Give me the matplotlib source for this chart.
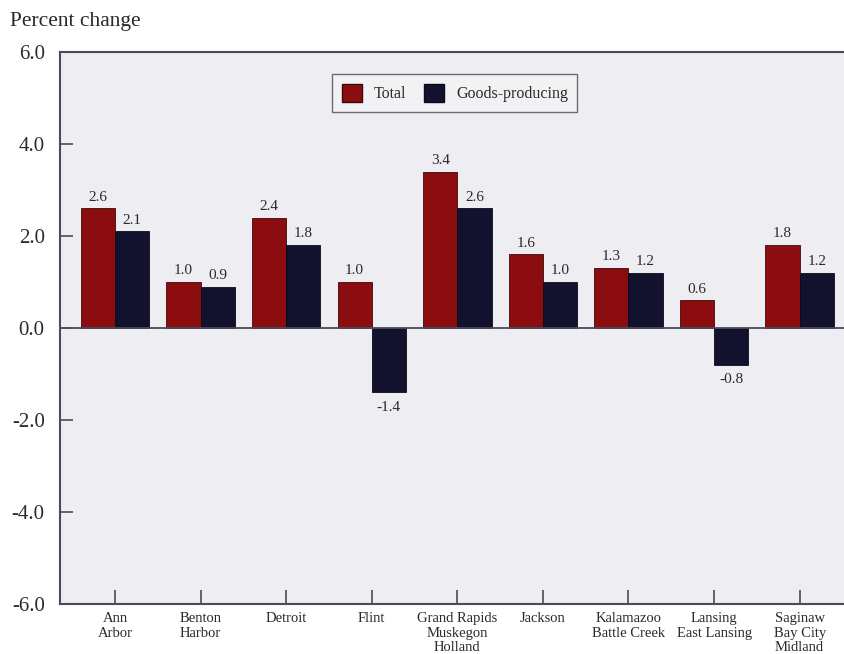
import matplotlib
matplotlib.use("Agg")
import matplotlib.pyplot as plt
from matplotlib.patches import Patch
import numpy as np

plt.rcParams['font.family'] = ['Liberation Serif', 'DejaVu Serif']

areas = ["Ann\nArbor", "Benton\nHarbor", "Detroit", "Flint",
         "Grand Rapids\nMuskegon\nHolland", "Jackson",
         "Kalamazoo\nBattle Creek", "Lansing\nEast Lansing",
         "Saginaw\nBay City\nMidland"]
total = [2.6, 1.0, 2.4, 1.0, 3.4, 1.6, 1.3, 0.6, 1.8]
goods = [2.1, 0.9, 1.8, -1.4, 2.6, 1.0, 1.2, -0.8, 1.2]
yticks = [-6.0, -4.0, -2.0, 0.0, 2.0, 4.0, 6.0]

red = "#8c0d0f"
navy = "#12122e"
axis_col = "#4a4a5a"
text_col = "#2a2a2a"

fig = plt.figure(figsize=(8.45, 6.54), dpi=100)
ax = fig.add_axes([0.071, 0.0765, 0.929, 0.844])
ax.set_facecolor("#eeeef2")

x = np.arange(len(areas))
w = 0.4
b1 = ax.bar(x - w / 2, total, w, color=red, edgecolor="#3a0a0a", linewidth=0.6,
            label="Total", zorder=3)
b2 = ax.bar(x + w / 2, goods, w, color=navy, edgecolor="#0a0a1a", linewidth=0.6,
            label="Goods-producing", zorder=3)

for bars in (b1, b2):
    for rect in bars:
        v = rect.get_height()
        cx = rect.get_x() + rect.get_width() / 2
        if v >= 0:
            ax.annotate(f"{v:.1f}", (cx, v), xytext=(0, 3.5), textcoords="offset points",
                        ha="center", va="bottom", fontsize=11, color=text_col)
        else:
            ax.annotate(f"{v:.1f}", (cx, v), xytext=(0, -6), textcoords="offset points",
                        ha="center", va="top", fontsize=11, color=text_col)

ax.axhline(0, color=axis_col, linewidth=1.3, zorder=4)

ax.set_ylim(-6, 6)
ax.set_xlim(-0.643, 8.53)
ax.set_yticks(yticks)
ax.set_yticklabels([f"{t:.1f}" for t in yticks], fontsize=15, color=text_col)
ax.set_xticks(x)
ax.set_xticklabels(areas, fontsize=10.5, color=text_col, linespacing=1.15)

ax.tick_params(axis="y", direction="in", length=9, width=1.2, color=axis_col, pad=11)
ax.tick_params(axis="x", direction="in", length=10, width=1.2, color=axis_col, pad=6)

for s in ("left", "top", "bottom"):
    ax.spines[s].set_color(axis_col)
    ax.spines[s].set_linewidth(1.5)
ax.spines["right"].set_visible(False)

handles = [Patch(facecolor=red, edgecolor="#3a0a0a", label="Total"),
           Patch(facecolor=navy, edgecolor="#0a0a1a", label="Goods-producing")]
leg = ax.legend(handles=handles, loc="center", bbox_to_anchor=(0.503, 0.926),
                ncol=2, frameon=True, fancybox=False, fontsize=11.5,
                handlelength=1.25, handleheight=1.35, columnspacing=1.1,
                handletextpad=0.75, borderpad=0.6)
leg.get_frame().set_edgecolor(axis_col)
leg.get_frame().set_linewidth(1.0)
leg.get_frame().set_facecolor("#f4f4f6")
for t in leg.get_texts():
    t.set_color(text_col)

fig.text(0.012, 0.982, "Percent change", fontsize=15.5, color=text_col, ha="left", va="top")

fig.savefig("out.png", dpi=100, facecolor="white")
